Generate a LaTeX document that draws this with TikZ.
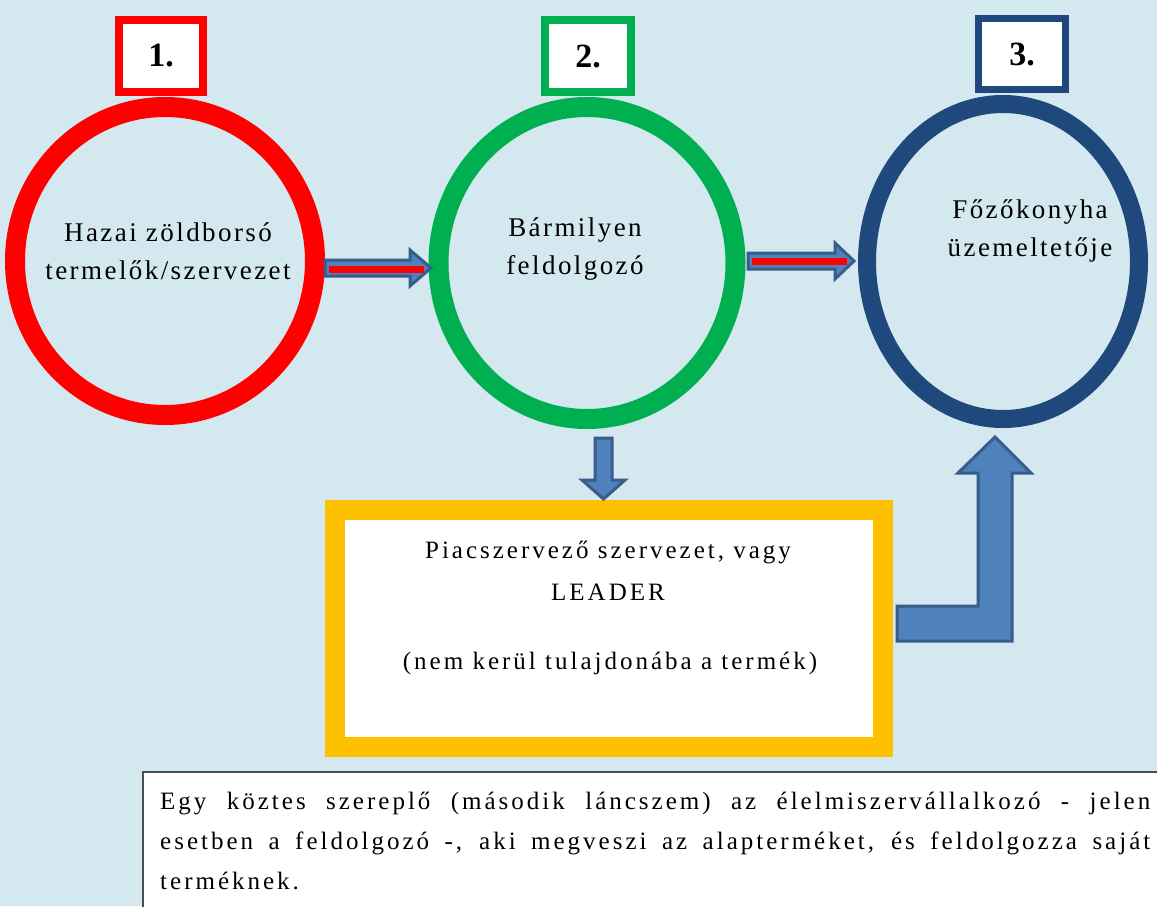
\documentclass[tikz,border=0pt]{standalone}
\usepackage{fontspec}
\setmainfont{Liberation Serif}
\newfontfamily\lsfont[LetterSpace=12]{Liberation Serif}
\newfontfamily\lcfont[LetterSpace=9]{Liberation Serif}
\usetikzlibrary{shapes.geometric}
\definecolor{bgblue}{HTML}{D3E8EF}
\definecolor{cred}{HTML}{FF0000}
\definecolor{cgreen}{HTML}{00B050}
\definecolor{cnavy}{HTML}{1F497D}
\definecolor{cyellow}{HTML}{FFC000}
\definecolor{afill}{HTML}{4F81BD}
\definecolor{aline}{HTML}{385D8A}
\tikzset{
  ring/.style={ellipse,draw,inner sep=0pt,outer sep=0pt,line width=20pt},
  numbox/.style={draw,fill=white,line width=8pt,inner sep=0pt,outer sep=0pt,font=\fontsize{34}{38}\selectfont\bfseries},
  lbl/.style={align=center,font=\lcfont\fontsize{27}{38}\selectfont},
  boxlbl/.style={align=center,font=\lsfont\fontsize{25}{42}\selectfont},
  blockarrow/.style={fill=afill,draw=aline,line width=3pt,line join=miter},
  redline/.style={cred,line width=7pt}
}
\begin{document}
\begin{tikzpicture}[x=1pt,y=-1pt]
\clip (0,0) rectangle (1157,906);
\fill[bgblue] (0,0) rectangle (1157,906);
\useasboundingbox (0,0) rectangle (1157,906);

% circles
\node[ring,draw=cred,minimum width=300pt,minimum height=308pt] (c1) at (165,261) {};
\node[ring,draw=cgreen,minimum width=297pt,minimum height=312pt] (c2) at (587,263) {};
\node[ring,draw=cnavy,line width=18pt,minimum width=272pt,minimum height=315pt] (c3) at (1003,261.5) {};

% number boxes
\node[numbox,draw=cred,minimum width=84pt,minimum height=72pt] (n1) at (161,56) {1.};
\node[numbox,draw=cgreen,minimum width=86pt,minimum height=72pt] (n2) at (588,56) {2.};
\node[numbox,draw=cnavy,line width=7pt,minimum width=87pt,minimum height=71pt] (n3) at (1022,54) {3.};

% circle texts
\node[lbl] (t1) at (168,251) {Hazai zöldborsó\\termelők/szervezet};
\node[lbl] (t2) at (575,249) {Bármilyen\\feldolgozó};
\node[lbl] (t3) at (1030,231) {Főzőkonyha\\üzemeltetője};

% yellow box
\node[draw=cyellow,fill=white,line width=20pt,minimum width=548pt,minimum height=237pt,inner sep=0pt,outer sep=0pt] (yb) at (609,628.5) {};
\node[boxlbl] (yt1) at (608,571) {Piacszervező szervezet, vagy\\LEADER};
\node[boxlbl] (yt2) at (610,663) {(nem kerül tulajdonába a termék)};

% arrow 1 -> 2
\draw[blockarrow] (325,260) -- (410,260) -- (410,250) -- (431,268) -- (410,286) -- (410,276) -- (325,276) -- cycle;
\draw[redline] (329,269) -- (424,269);
% arrow 2 -> 3
\draw[blockarrow] (748,253) -- (835,253) -- (835,243) -- (854,261) -- (835,279) -- (835,269) -- (748,269) -- cycle;
\draw[redline] (752,261) -- (847,261);
% down arrow
\draw[blockarrow] (595,438) -- (612,438) -- (612,480) -- (625,480) -- (603.5,499) -- (582,480) -- (595,480) -- cycle;
% bent arrow
\draw[blockarrow] (897,606) -- (978,606) -- (978,473) -- (958,473) -- (995,437) -- (1031,473) -- (1012,473) -- (1012,641) -- (897,641) -- cycle;

% bottom text box
\node[draw=black!70,fill=white,line width=2pt,anchor=north west,minimum width=1100pt,minimum height=160pt,inner sep=0pt] (tb) at (142,771) {};
\node[anchor=north west,text width=990pt,align=justify,inner sep=0pt,font=\lsfont\fontsize{25}{40}\selectfont] (tt) at (160,792)
{Egy köztes szereplő (második láncszem) az élelmiszervállalkozó - jelen\linebreak esetben a feldolgozó -, aki megveszi az alapterméket, és feldolgozza saját\linebreak terméknek.};
\end{tikzpicture}
\end{document}
